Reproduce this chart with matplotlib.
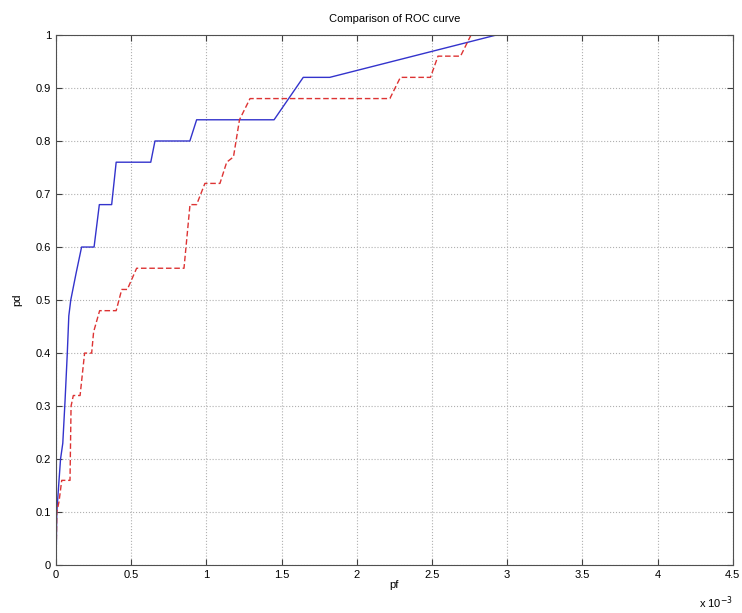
import numpy as np
import matplotlib
matplotlib.use('Agg')
import matplotlib.pyplot as plt

plt.rcParams['font.family'] = ['Liberation Sans', 'DejaVu Sans']

# pf in units of 1e-3
pf_blue = [0, 0.005, 0.03, 0.045, 0.06, 0.075, 0.085, 0.098, 0.133, 0.17, 0.253, 0.288,
           0.37, 0.40, 0.63, 0.658, 0.89, 0.935, 1.45, 1.644, 1.82, 2.93]
pd_blue = [0, 0.10, 0.20, 0.23, 0.31, 0.40, 0.47, 0.50, 0.55, 0.60, 0.60, 0.68,
           0.68, 0.76, 0.76, 0.80, 0.80, 0.84, 0.84, 0.92, 0.92, 1.00]

pf_red = [0, 0.005, 0.02, 0.038, 0.093, 0.10, 0.115, 0.16, 0.19, 0.237, 0.25, 0.29,
          0.40, 0.437, 0.474, 0.536, 0.851, 0.891, 0.935, 0.99, 1.09, 1.135, 1.18,
          1.22, 1.29, 2.22, 2.29, 2.49, 2.54, 2.69, 2.76]
pd_red = [0, 0.10, 0.12, 0.16, 0.16, 0.30, 0.32, 0.32, 0.40, 0.40, 0.44, 0.48,
          0.48, 0.52, 0.52, 0.56, 0.56, 0.68, 0.68, 0.72, 0.72, 0.76, 0.77,
          0.84, 0.88, 0.88, 0.92, 0.92, 0.96, 0.96, 1.00]

xticks = np.arange(0, 4.51, 0.5)
xlabels = ['0', '0.5', '1', '1.5', '2', '2.5', '3', '3.5', '4', '4.5']
yticks = np.arange(0, 1.01, 0.1)
ylabels = ['0', '0.1', '0.2', '0.3', '0.4', '0.5', '0.6', '0.7', '0.8', '0.9', '1']

fig = plt.figure(figsize=(7.42, 6.13), dpi=100)
ax = fig.add_axes([0.0755, 0.078, 0.912, 0.865])

ax.plot(pf_blue, pd_blue, color='#3333cc', lw=1.0)
ax.plot(pf_red, pd_red, color='#dd3333', lw=1.0, ls='--', dashes=(4, 2))

ax.set_xlim(0, 4.5)
ax.set_ylim(0, 1)
ax.set_xticks(xticks)
ax.set_xticklabels(xlabels)
ax.set_yticks(yticks)
ax.set_yticklabels(ylabels)
ax.tick_params(direction='in', top=True, right=True, labelsize=8, length=4, color='#404040')
ax.grid(True, ls=':', color='#b0b0b0', lw=0.8)
for s in ax.spines.values():
    s.set_color('#505050')

ax.set_title('Comparison of ROC curve', fontsize=8, pad=9)
ax.set_xlabel('pf', fontsize=8, labelpad=0)
ax.set_ylabel('pd', fontsize=8)
ax.yaxis.set_label_coords(-0.05, 0.5)
ax.text(1.0, -0.055, r'x 10$^{-3}$', transform=ax.transAxes, ha='right', va='top', fontsize=8)

fig.savefig('out.png', dpi=100)
